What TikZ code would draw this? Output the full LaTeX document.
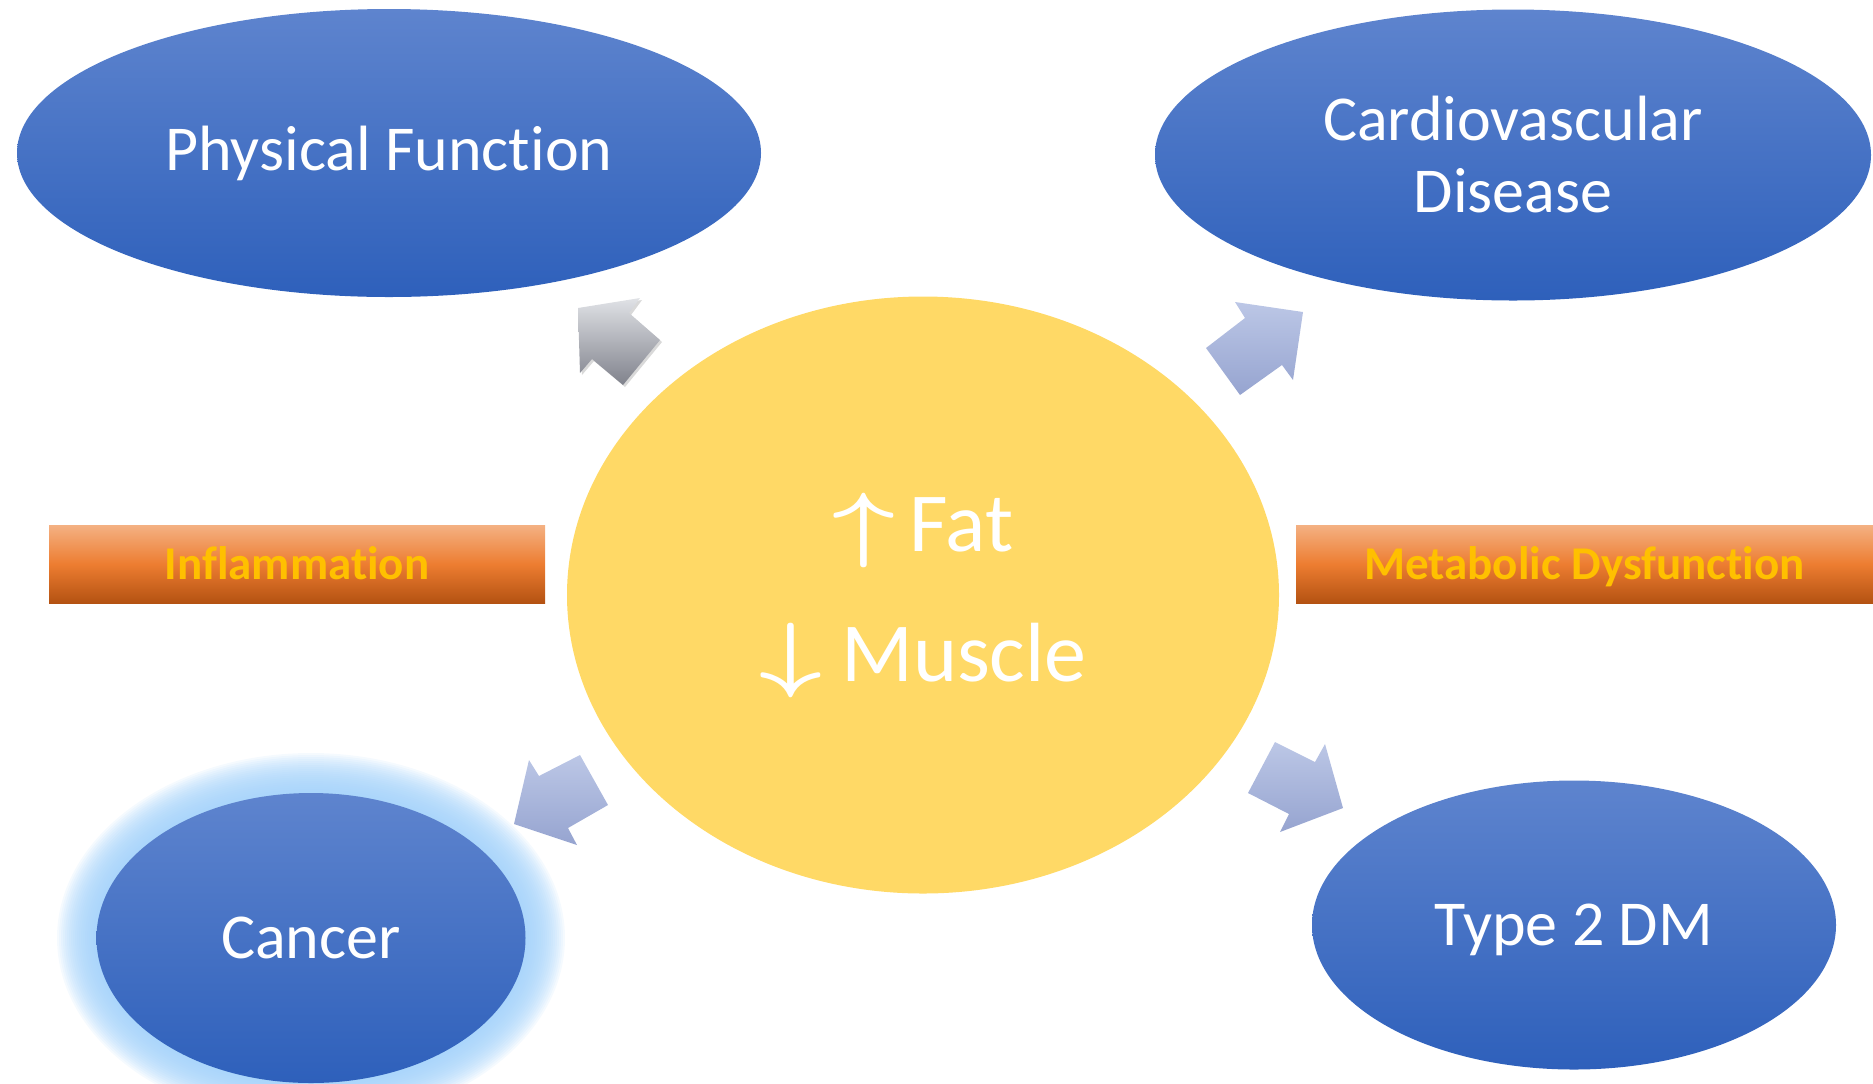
\RequirePackage{fix-cm}
\documentclass[tikz,border=0pt]{standalone}
\usepackage{xcolor}
\usepackage{graphicx}
\usepackage{fontspec}
\setmainfont{Carlito}[Ligatures={NoCommon,NoContextual,NoRequired},Contextuals=NoAlternate]
\usepackage{tikz}
\usetikzlibrary{shapes.geometric,shadows}

\definecolor{ovaltop}{RGB}{94,132,206}
\definecolor{ovalbot}{RGB}{46,96,187}
\definecolor{coreyellow}{RGB}{255,217,102}
\definecolor{glowblue}{RGB}{160,208,250}
\definecolor{bartop}{RGB}{244,177,131}
\definecolor{barmid}{RGB}{237,125,49}
\definecolor{barbot}{RGB}{180,82,18}
\definecolor{bartxt}{RGB}{255,192,0}
\definecolor{arrtop}{RGB}{188,199,230}
\definecolor{arrbot}{RGB}{150,164,208}
\definecolor{graytop}{RGB}{224,226,230}
\definecolor{graybot}{RGB}{128,130,140}

\newcommand{\trendarrow}[1]{\scalebox{1.3}[1]{\boldmath$#1$}}

\begin{document}
\begin{tikzpicture}[x=0.5pt,y=-0.5pt,
  oval/.style={ellipse, inner sep=0pt, top color=ovaltop, bottom color=ovalbot,
    text=white, align=center, font=\fontsize{32}{36}\selectfont},
  bar/.style={rectangle, inner sep=0pt, minimum height=39pt,
    top color=bartop, bottom color=barbot, middle color=barmid},
  bartext/.style={anchor=base, text=bartxt, font=\bfseries\fontsize{23.5}{28}\selectfont},
  bluearrow/.style={top color=arrtop, bottom color=arrbot},
  grayarrow/.style={top color=graytop, bottom color=graybot,
    drop shadow={opacity=0.3, shadow xshift=1pt, shadow yshift=-1pt}}]
\useasboundingbox (0,0) rectangle (1873,1083);

\node (phys) at (389,153) [oval, minimum width=372pt, minimum height=144pt] {Physical Function};
\node (cvd) at (1513,155) [oval, minimum width=358pt, minimum height=145.5pt] {Cardiovascular\\Disease};

% glow round the cancer oval
\foreach \r in {40,38,...,2}
  \fill [glowblue, opacity=0.1] (311,938) ellipse [x radius=214+\r, y radius=145+\r];
\node (cancer) at (311,938) [oval, minimum width=214.5pt, minimum height=145pt] {Cancer};
\node (dm) at (1574,925) [oval, text depth=0pt, minimum width=262pt, minimum height=144.5pt] {Type 2 DM};

\node (core) at (923,595) [ellipse, inner sep=0pt, fill=coreyellow, minimum width=356pt,
  minimum height=298.5pt, text=white, align=center,
  font=\fontsize{42}{65}\selectfont] {\trendarrow{\uparrow}\,Fat\\\trendarrow{\downarrow} Muscle};

\node (inflbar) at (297,564) [bar, minimum width=248pt] {};
\node (infl) at (297,579) [bartext] {Inflammation};
\node (metbar) at (1584.5,564) [bar, minimum width=288.5pt] {};
\node (meta) at (1584.5,579) [bartext] {Metabolic Dysfunction};

\shade [grayarrow] (578,308) -- (640,298) -- (629,313) -- (660,340) -- (623,385)
  -- (592,359) -- (580,373) -- cycle;
\shade [bluearrow] (1235,302) -- (1303,312) -- (1293,380) -- (1282,365) -- (1240,395)
  -- (1206,348) -- (1245,318) -- cycle;
\shade [bluearrow] (529,760) -- (539,776) -- (580,755) -- (608,805) -- (568,828)
  -- (577,845) -- (514,824) -- cycle;
\shade [bluearrow] (1275,742) -- (1315,762) -- (1325,744) -- (1343,808) -- (1280,832)
  -- (1289,814) -- (1248,793) -- cycle;
\end{tikzpicture}
\end{document}
